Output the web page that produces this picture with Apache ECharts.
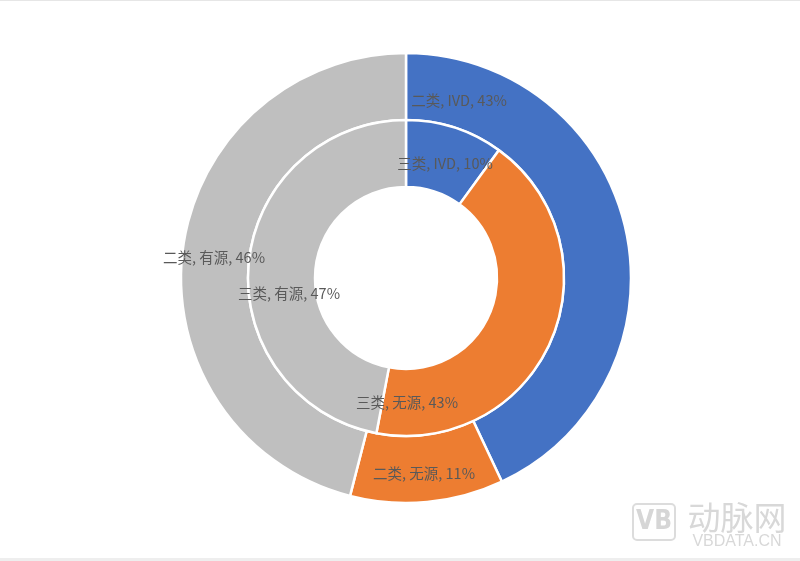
<!DOCTYPE html>
<html>
<head>
<meta charset="utf-8">
<script src="https://cdn.jsdelivr.net/npm/echarts@6/dist/echarts.min.js"></script>
<style>
html,body{margin:0;padding:0;background:#fff;}
#chart{width:800px;height:561px;}
</style>
</head>
<body>
<div id="chart"></div>
<script>
// Data
const categories = ['IVD', '无源', '有源'];
const outerName = '二类';
const innerName = '三类';
const outerValues = [43, 11, 46];
const innerValues = [10, 43, 47];
const colors = ['#4472C4', '#ED7D31', '#BFBFBF'];

// label placement (pixel positions of label centres)
const outerLabelPos = [[459, 100], [424, 473], [214, 257]];
const innerLabelPos = [[445, 163], [407, 402], [289, 293]];

const chart = echarts.init(document.getElementById('chart'), null, {renderer: 'canvas'});

function mk(name, vals) {
  return categories.map((c, i) => ({name: c, value: vals[i], itemStyle: {color: colors[i]}}));
}

const labelStyle = {
  show: true,
  position: 'inside',
  color: '#595959',
  fontSize: 14.5,
  fontFamily: 'Noto Sans CJK SC',
};

const center = [406, 278];

chart.setOption({
  backgroundColor: '#ffffff',
  animation: false,
  series: [
    {
      type: 'pie',
      name: outerName,
      center: center,
      radius: [158, 225],
      startAngle: 90,
      clockwise: true,
      itemStyle: {borderColor: '#ffffff', borderWidth: 2.5},
      label: Object.assign({}, labelStyle, {
        formatter: p => outerName + ', ' + p.name + ', ' + p.value + '%'
      }),
      labelLine: {show: false},
      labelLayout: p => ({x: outerLabelPos[p.dataIndex][0], y: outerLabelPos[p.dataIndex][1], align: 'center', verticalAlign: 'middle'}),
      emphasis: {disabled: true},
      data: mk(outerName, outerValues)
    },
    {
      type: 'pie',
      name: innerName,
      center: center,
      radius: [91, 158],
      startAngle: 90,
      clockwise: true,
      itemStyle: {borderColor: '#ffffff', borderWidth: 2.5},
      label: Object.assign({}, labelStyle, {
        formatter: p => innerName + ', ' + p.name + ', ' + p.value + '%'
      }),
      labelLine: {show: false},
      labelLayout: p => ({x: innerLabelPos[p.dataIndex][0], y: innerLabelPos[p.dataIndex][1], align: 'center', verticalAlign: 'middle'}),
      emphasis: {disabled: true},
      data: mk(innerName, innerValues)
    }
  ],
  graphic: [
    {type: 'rect', shape: {x: 0, y: 0, width: 800, height: 1}, style: {fill: '#e6e6e6'}, silent: true},
    {type: 'rect', shape: {x: 0, y: 558, width: 800, height: 3}, style: {fill: '#eeeeee'}, silent: true},
    {type: 'rect', shape: {x: 633, y: 504, width: 42, height: 36, r: 4}, style: {fill: 'none', stroke: '#dcdcdc', lineWidth: 2}, silent: true},
    {type: 'text', x: 654, y: 522, style: {text: 'VB', fill: '#d6d6d6', font: 'bold 26px "DejaVu Sans Condensed", sans-serif', align: 'center', verticalAlign: 'middle'}, silent: true},
    {type: 'text', x: 737, y: 517, style: {text: '动脉网', fill: '#d8d8d8', font: '33px "Noto Sans CJK SC"', align: 'center', verticalAlign: 'middle'}, silent: true},
    {type: 'text', x: 737, y: 542, style: {text: 'VBDATA.CN', fill: '#d8d8d8', font: '16px "Liberation Sans", sans-serif', align: 'center', verticalAlign: 'middle'}, silent: true}
  ]
});
</script>
</body>
</html>
